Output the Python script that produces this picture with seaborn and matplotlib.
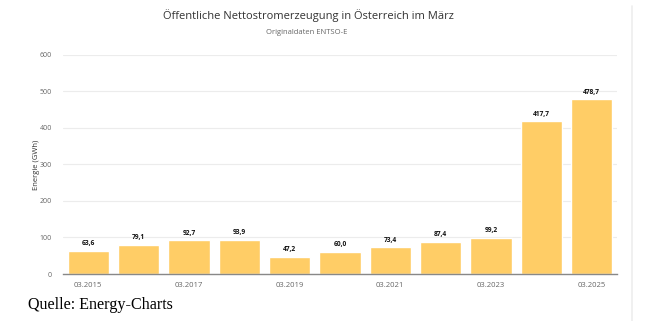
import matplotlib
matplotlib.use("Agg")
import matplotlib.pyplot as plt
import seaborn as sns
import pandas as pd

months = ["03.2015", "03.2016", "03.2017", "03.2018", "03.2019", "03.2020",
          "03.2021", "03.2022", "03.2023", "03.2024", "03.2025"]
values = [63.6, 79.1, 92.7, 93.9, 47.2, 60.0, 73.4, 87.4, 99.2, 417.7, 478.7]
y_ticks = [0, 100, 200, 300, 400, 500, 600]

df = pd.DataFrame({"Monat": months, "Energie": values})

sns.set_theme(style="white")
plt.rcParams['font.family'] = ['Open Sans', 'DejaVu Sans']

fig = plt.figure(figsize=(6.5, 3.21), dpi=100)
ax = fig.add_axes([0.097, 0.1464, 0.852, 0.6826])

sns.barplot(data=df, x="Monat", y="Energie", color="#ffcd66", width=0.82,
            saturation=1, ax=ax, zorder=3)

ax.set_ylim(0, 600)
ax.set_xlim(-0.5, len(months) - 0.5)
ax.set_yticks(y_ticks)
ax.set_yticklabels([str(t) for t in y_ticks], fontsize=5, color="#666666")
ax.set_xticks(range(0, len(months), 2))
ax.set_xticklabels(months[::2], fontsize=5.5, color="#666666")
ax.tick_params(axis="both", length=0, pad=6)
ax.tick_params(axis="y", pad=8)
ax.grid(axis="y", color="#ececec", linewidth=0.8, zorder=0)
for s in ["left", "right", "top"]:
    ax.spines[s].set_visible(False)
ax.spines["bottom"].set_color("#888888")
ax.spines["bottom"].set_linewidth(1.0)
ax.spines["bottom"].set_zorder(4)
ax.set_xlabel("")
ax.set_ylabel("Energie (GWh)", fontsize=5.5, color="#333333")
ax.yaxis.set_label_coords(-0.042, 0.5)

for i, v in enumerate(values):
    ax.text(i, v + 10, f"{v:.1f}".replace(".", ","), ha="center", va="bottom",
            fontsize=4.8, fontweight="bold", color="#111111")

fig.text(0.474, 0.952, "Öffentliche Nettostromerzeugung in Österreich im März",
         ha="center", va="center", fontsize=8, color="#333333")
fig.text(0.472, 0.900, "Originaldaten ENTSO-E", ha="center", va="center",
         fontsize=5.5, color="#666666")
fig.text(0.043, 0.05, "Quelle: Energy-Charts", ha="left", va="center",
         fontsize=11.6, family=["Liberation Serif", "DejaVu Serif"], color="#000000")
fig.add_artist(plt.Line2D([0.972, 0.972], [0.0, 0.98], transform=fig.transFigure,
                          color="#eeeeee", linewidth=1.2))

fig.savefig("out.png", dpi=100)
